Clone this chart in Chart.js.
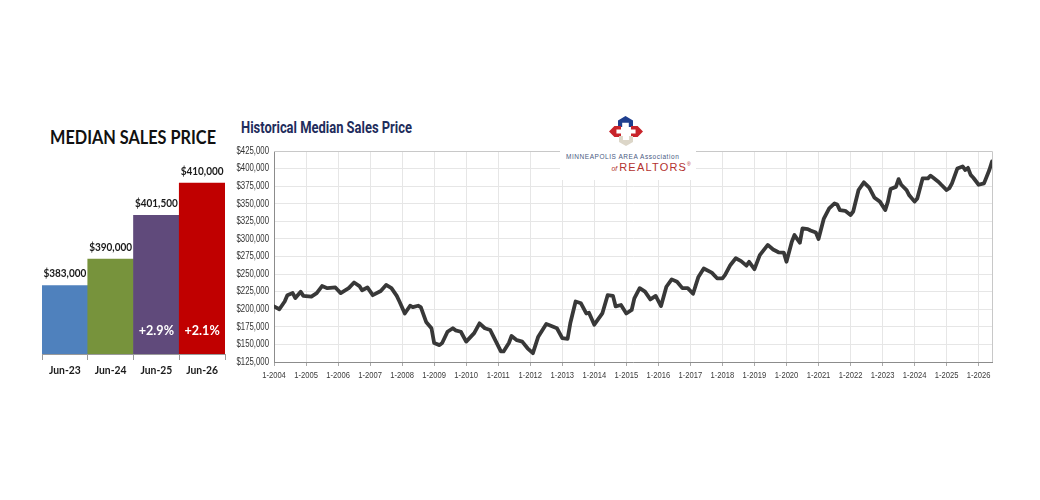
<!DOCTYPE html>
<html>
<head>
<meta charset="utf-8">
<script src="https://cdn.jsdelivr.net/npm/chart.js@4.4.1/dist/chart.umd.min.js"></script>
<style>
  html, body { margin: 0; padding: 0; background: #fff; }
  body { width: 1040px; height: 500px; position: relative; overflow: hidden; font-family: "Liberation Sans", Arial, sans-serif; }
  #barWrap { position: absolute; left: 30px; top: 140px; width: 210px; height: 245px; }
  #lineWrap { position: absolute; left: 220px; top: 140px; width: 790px; height: 250px; }
  #barTitle { position: absolute; left: 50px; top: 125px; white-space: nowrap; transform-origin: 0 0;
    font: bold 19px Lato, "Open Sans", sans-serif; color: #111; }
  #lineTitle { position: absolute; left: 241px; top: 117px; white-space: nowrap; transform-origin: 0 0;
    font: bold 17px Roboto, "Liberation Sans", sans-serif; color: #1f2d5c; }
  #logo { position: absolute; left: 560px; top: 110px; width: 136px; height: 70px; background: #fff; }
  .shape { position: absolute; }
  #logoTxt1 { position: absolute; left: 6px; top: 43px; white-space: nowrap; font: 6.5px "Liberation Sans", Arial, sans-serif; color: #4a5a82; letter-spacing: 0.55px; }
  #logoTxt2 { position: absolute; right: 4px; top: 51px; white-space: nowrap; font: 11px "Liberation Sans", Arial, sans-serif; color: #b3312e; letter-spacing: 1.2px; }
  #logoTxt2 i { font-size: 7px; color: #b3312e; letter-spacing: 0; margin-right: 2px; }
  #logoTxt2 sup { font-size: 5px; }
</style>
</head>
<body>
<div id="barTitle">MEDIAN SALES PRICE</div>
<div id="barWrap"><canvas id="barChart"></canvas></div>
<div id="lineTitle">Historical Median Sales Price</div>
<div id="lineWrap"><canvas id="lineChart"></canvas></div>
<div id="logo">
  <div class="shape" style="left:58px;top:6px;width:15px;height:11px;background:#1f3f8f;clip-path:polygon(50% 0,100% 40%,100% 100%,72% 100%,72% 62%,28% 62%,28% 100%,0 100%,0 40%);"></div>
  <div class="shape" style="left:49px;top:16px;width:12px;height:11px;background:#c8242b;clip-path:polygon(0 50%,45% 0,100% 0,100% 32%,62% 32%,62% 68%,100% 68%,100% 100%,45% 100%);"></div>
  <div class="shape" style="left:71px;top:16px;width:12px;height:11px;background:#c8242b;clip-path:polygon(100% 50%,55% 0,0 0,0 32%,38% 32%,38% 68%,0 68%,0 100%,55% 100%);"></div>
  <div class="shape" style="left:59px;top:26px;width:14px;height:10px;background:#dcd6c8;clip-path:polygon(0 0,28% 0,28% 40%,72% 40%,72% 0,100% 0,100% 60%,50% 100%,0 60%);"></div>
  <div id="logoTxt1">MINNEAPOLIS AREA Association</div>
  <div id="logoTxt2"><i>of</i>REALTORS<sup>®</sup></div>
</div>
<script>
// ---------- Data ----------
const barCategories = ['Jun-23', 'Jun-24', 'Jun-25', 'Jun-26'];
const barValues = [383000, 390000, 401500, 410000];
const barValueLabels = ['$383,000', '$390,000', '$401,500', '$410,000'];
const barChangeLabels = ['', '', '+2.9%', '+2.1%'];
const barColors = ['#4f81bd', '#77933c', '#604a7b', '#c00000'];

const historyDates = [
 '2004-01','2004-03','2004-05','2004-06','2004-08','2004-09','2004-11','2004-12',
 '2005-03','2005-05','2005-07','2005-09','2005-12',
 '2006-02','2006-05','2006-07','2006-09','2006-10','2006-12',
 '2007-02','2007-05','2007-07','2007-09','2007-11','2007-12',
 '2008-02','2008-04','2008-05','2008-07','2008-08','2008-10','2008-12',
 '2009-01','2009-03','2009-04','2009-06','2009-08','2009-09','2009-11',
 '2010-01','2010-04','2010-06','2010-08','2010-10','2010-11',
 '2011-02','2011-03','2011-05','2011-06','2011-08','2011-10','2011-12',
 '2012-02','2012-04','2012-07','2012-08','2012-11',
 '2013-01','2013-03','2013-04','2013-06','2013-08','2013-10','2013-11',
 '2014-01','2014-04','2014-06','2014-08','2014-09','2014-11',
 '2015-01','2015-03','2015-04','2015-06','2015-08','2015-10','2015-12',
 '2016-02','2016-04','2016-06','2016-08','2016-10','2016-12',
 '2017-02','2017-04','2017-06','2017-09','2017-11',
 '2018-01','2018-02','2018-04','2018-06','2018-08','2018-10','2018-11',
 '2019-01','2019-03','2019-06','2019-08','2019-10','2019-12',
 '2020-01','2020-03','2020-04','2020-06','2020-07','2020-09','2020-10','2020-12',
 '2021-01','2021-03','2021-05','2021-07','2021-08','2021-09','2021-11',
 '2022-01','2022-02','2022-04','2022-06','2022-08','2022-10','2022-12',
 '2023-02','2023-03','2023-04','2023-06','2023-07','2023-08','2023-10','2023-11',
 '2024-01','2024-02','2024-04','2024-06','2024-07','2024-08','2024-10','2024-11',
 '2025-01','2025-02','2025-03','2025-05','2025-06','2025-07','2025-08','2025-09','2025-10','2025-11',
 '2026-01','2026-03','2026-05','2026-06'
];
const historyPrices = [
 204000,200000,211000,220000,223000,216000,225000,219000,
 218000,223000,233000,230000,231000,
 223000,230000,238000,233000,227000,231000,
 220000,226000,234500,230000,219000,211000,
 194000,205000,203000,205000,203000,182000,173000,
 152000,149000,152000,168000,173000,170000,168000,
 154000,166000,180000,173000,170500,163000,
 140000,140000,152000,162000,156000,154000,144500,
 137500,161000,179000,177500,173000,
 159000,158000,180000,211000,208500,194000,195000,
 178000,194000,220000,219000,204000,206000,
 194000,199000,215500,230000,225000,214000,219000,
 204500,232000,242500,239000,230000,230000,
 222000,246000,258000,252000,244000,
 244000,249000,263000,272500,268500,262000,267500,
 257000,277000,291500,285000,281000,280500,
 267500,296000,305500,294500,315000,314000,312000,309000,
 300000,329000,343500,350500,349000,341000,340000,
 334000,339000,369500,380500,373000,358500,353000,
 341000,353000,371000,374000,385000,377000,369500,362000,
 353000,357500,386000,386000,390000,387000,381000,377000,
 369500,372000,379000,400000,401500,403000,398000,401000,391000,387000,
 377000,379000,398000,410000
];
const yTickMin = 125000, yTickMax = 425000, yTickStep = 25000;
const firstYear = 2004, lastYearTick = 2026, lastMonthIndex = 269;

// ---------- Helpers ----------
const SANS = '"Liberation Sans", Arial, sans-serif';
const CAL = 'Lato, "Open Sans", sans-serif';
const monthIndex = d => { const [y, m] = d.split('-').map(Number); return (y - firstYear) * 12 + (m - 1); };
const money = v => '$' + v.toLocaleString('en-US');
function condText(ctx, text, x, y, align, sx) {
  ctx.save();
  ctx.translate(x, y);
  ctx.scale(sx, 1);
  ctx.textAlign = align;
  ctx.textBaseline = 'middle';
  ctx.fillText(text, 0, 0);
  ctx.restore();
}
function fitWidth(id, target) {
  const el = document.getElementById(id);
  const w = el.getBoundingClientRect().width;
  if (w > 0) el.style.transform = 'scaleX(' + (target / w) + ')';
}

// ---------- Bar chart ----------
const barLabelPlugin = {
  id: 'barLabels',
  afterDatasetsDraw(chart) {
    const ctx = chart.ctx;
    const meta = chart.getDatasetMeta(0);
    const xs = chart.scales.x;
    ctx.save();
    meta.data.forEach((bar, i) => {
      ctx.fillStyle = '#1a1a1a';
      ctx.font = 'bold 11.5px ' + CAL;
      condText(ctx, barValueLabels[i], bar.x, bar.y - 12, 'center', 0.87);
      if (barChangeLabels[i]) {
        ctx.fillStyle = '#ffffff';
        ctx.font = 'bold 14px ' + CAL;
        condText(ctx, barChangeLabels[i], bar.x, chart.chartArea.bottom - 24, 'center', 0.9);
      }
      ctx.fillStyle = '#1a1a1a';
      ctx.font = 'bold 11.5px ' + CAL;
      condText(ctx, barCategories[i], xs.getPixelForTick(i), chart.chartArea.bottom + 16, 'center', 0.9);
    });
    ctx.restore();
  }
};

new Chart(document.getElementById('barChart'), {
  type: 'bar',
  data: {
    labels: barCategories,
    datasets: [{ data: barValues, backgroundColor: barColors, borderWidth: 0,
      barPercentage: 1.0, categoryPercentage: 1.0 }]
  },
  options: {
    responsive: true, maintainAspectRatio: false, animation: false,
    layout: { padding: { left: 12, right: 15, top: 5, bottom: 0 } },
    plugins: { legend: { display: false }, tooltip: { enabled: false } },
    scales: {
      x: {
        grid: { display: true, drawOnChartArea: false, drawTicks: true, tickLength: 6, color: '#9a9a9a', offset: true },
        border: { display: true, color: '#9a9a9a', width: 1 },
        ticks: { display: false },
        afterFit: s => { s.height = 31; }
      },
      y: { display: false, min: 365000, max: 420000 }
    }
  },
  plugins: [barLabelPlugin]
});

// ---------- Line chart ----------
const frameAndLabels = {
  id: 'frameAndLabels',
  afterDraw(chart) {
    const { ctx, chartArea: a, scales } = chart;
    ctx.save();
    ctx.strokeStyle = '#c8c8c8';
    ctx.lineWidth = 1;
    ctx.beginPath();
    ctx.moveTo(a.left, a.top + 0.5);
    ctx.lineTo(a.right + 0.5, a.top + 0.5);
    ctx.lineTo(a.right + 0.5, a.bottom);
    ctx.stroke();
    ctx.fillStyle = '#333';
    ctx.font = '10px ' + SANS;
    scales.y.ticks.forEach(t => {
      condText(ctx, money(t.value), a.left - 5, scales.y.getPixelForValue(t.value), 'right', 0.78);
    });
    ctx.fillStyle = '#3a3a3a';
    ctx.font = '9.5px ' + SANS;
    scales.x.ticks.forEach(t => {
      condText(ctx, '1-' + (firstYear + t.value / 12), scales.x.getPixelForValue(t.value), a.bottom + 13, 'center', 0.8);
    });
    ctx.restore();
  }
};

new Chart(document.getElementById('lineChart'), {
  type: 'line',
  data: {
    datasets: [{
      data: historyDates.map((d, i) => ({ x: monthIndex(d), y: historyPrices[i] })),
      borderColor: '#383838', borderWidth: 3.8, pointRadius: 0, tension: 0,
      borderJoinStyle: 'round', borderCapStyle: 'round', fill: false
    }]
  },
  options: {
    responsive: true, maintainAspectRatio: false, animation: false,
    layout: { padding: { left: 0, right: 18, top: 11, bottom: 0 } },
    plugins: { legend: { display: false }, tooltip: { enabled: false } },
    scales: {
      x: {
        type: 'linear', min: 0, max: lastMonthIndex,
        grid: { color: '#e6e6e6', tickColor: '#aaaaaa', tickLength: 4, drawTicks: true },
        border: { display: true, color: '#8c8c8c', width: 1 },
        ticks: { display: false },
        afterBuildTicks: s => {
          const t = [];
          for (let y = firstYear; y <= lastYearTick; y++) t.push({ value: (y - firstYear) * 12 });
          s.ticks = t;
        },
        afterFit: s => { s.height = 28; }
      },
      y: {
        min: yTickMin, max: yTickMax,
        grid: { color: '#e6e6e6', drawTicks: false },
        border: { display: true, color: '#8c8c8c', width: 1 },
        ticks: { display: false, stepSize: yTickStep },
        afterFit: s => { s.width = 54; }
      }
    }
  },
  plugins: [frameAndLabels]
});

fitWidth('lineTitle', 171);
fitWidth('barTitle', 166);
</script>
</body>
</html>
